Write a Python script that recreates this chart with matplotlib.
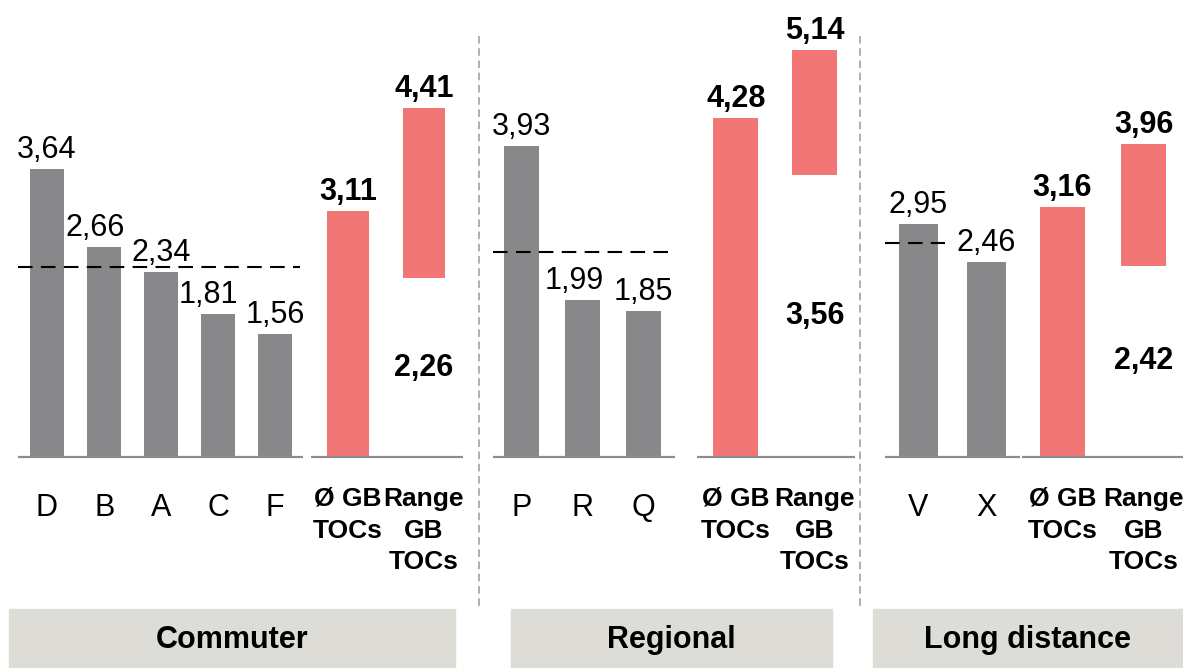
import matplotlib.pyplot as plt
from matplotlib.patches import Rectangle

plt.rcParams['font.family'] = ['Liberation Sans', 'DejaVu Sans']

# data
commuter_names = ["D", "B", "A", "C", "F"]
commuter_vals = [3.64, 2.66, 2.34, 1.81, 1.56]
commuter_mean = 2.40
commuter_gb_avg = 3.11
commuter_gb_range = [2.26, 4.41]

regional_names = ["P", "R", "Q"]
regional_vals = [3.93, 1.99, 1.85]
regional_mean = 2.59
regional_gb_avg = 4.28
regional_gb_range = [3.56, 5.14]

long_names = ["V", "X"]
long_vals = [2.95, 2.46]
long_mean = 2.70
long_gb_avg = 3.16
long_gb_range = [2.42, 3.96]

segment_labels = ["Commuter", "Regional", "Long distance"]
avg_label = "Ø GB\nTOCs"
range_label = "Range\nGB\nTOCs"

GREY = "#88888a"
RED = "#f27676"
BOX = "#dedcd7"

# layout (pixel-like x positions)
W, H = 1183, 668
base_px = 457
ppu = 79.1  # pixels per unit


def py(p):
    return (base_px - p) / ppu


def fmt(v):
    return f"{v:.2f}".replace(".", ",")


panels = [
    dict(names=commuter_names, vals=commuter_vals, mean=commuter_mean,
         avg=commuter_gb_avg, rng=commuter_gb_range,
         xs=[47, 104.5, 161.5, 218.5, 275], bw=34, lab_dx=[0, -9, 0, -10, 0],
         xa=348, xr=424, rw=42, axes=[(18, 303), (311, 463)], dash=(18, 300),
         box=(9, 455)),
    dict(names=regional_names, vals=regional_vals, mean=regional_mean,
         avg=regional_gb_avg, rng=regional_gb_range,
         xs=[521.5, 583, 643.5], bw=35, lab_dx=[0, -9, 0],
         xa=736, xr=815, rw=45, axes=[(493, 675), (697, 855)], dash=(493, 675),
         box=(511, 832)),
    dict(names=long_names, vals=long_vals, mean=long_mean,
         avg=long_gb_avg, rng=long_gb_range,
         xs=[918.5, 986.5], bw=39, lab_dx=[0, 0],
         xa=1062.5, xr=1144, rw=45, axes=[(885, 1020), (1022, 1183)], dash=(885, 945),
         box=(873, 1183)),
]

fig = plt.figure(figsize=(W / 100, H / 100), dpi=100)
ax = fig.add_axes([0, 0, 1, 1])
ax.set_xlim(0, W)
ax.set_ylim(py(H), py(0))
ax.axis("off")

lab_off = 11 / ppu

for p, seg in zip(panels, segment_labels):
    ax.bar(p["xs"], p["vals"], width=p["bw"], color=GREY, zorder=2)
    for x, v, dx, n in zip(p["xs"], p["vals"], p["lab_dx"], p["names"]):
        ax.text(x + dx, v + lab_off, fmt(v), ha="center", va="baseline",
                fontsize=22, zorder=4)
        ax.text(x, py(508), n, ha="center", va="center", fontsize=22)

    # GB average bar
    ax.bar(p["xa"], p["avg"], width=p["rw"], color=RED, zorder=2)
    ax.text(p["xa"], p["avg"] + lab_off, fmt(p["avg"]), ha="center", va="baseline",
            fontsize=22, fontweight="bold")
    # GB range bar
    lo, hi = p["rng"]
    ax.bar(p["xr"], hi - lo, bottom=lo, width=p["rw"], color=RED, zorder=2)
    ax.text(p["xr"], hi + lab_off, fmt(hi), ha="center", va="baseline",
            fontsize=22, fontweight="bold")
    ax.text(p["xr"], lo / 2, fmt(lo), ha="center", va="center",
            fontsize=22, fontweight="bold")

    ax.text(p["xa"], py(487), avg_label, ha="center", va="top", fontsize=19,
            fontweight="bold", linespacing=1.4)
    ax.text(p["xr"], py(487), range_label, ha="center", va="top", fontsize=19,
            fontweight="bold", linespacing=1.4)

    # baselines
    for x0, x1 in p["axes"]:
        ax.plot([x0, x1], [0, 0], color="#8c8c8c", lw=1.6, zorder=3,
                solid_capstyle="butt")
    # mean line
    ax.plot(list(p["dash"]), [p["mean"], p["mean"]], color="black", lw=1.5,
            linestyle=(0, (7, 4)), zorder=5)

    # segment box
    b0, b1 = p["box"]
    ax.add_patch(Rectangle((b0, py(H)), b1 - b0, py(609) - py(H), color=BOX,
                           clip_on=False, zorder=1))
    ax.text((b0 + b1) / 2, py(640), seg, ha="center", va="center", fontsize=22,
            fontweight="bold")

for xs in (479, 860):
    ax.plot([xs, xs], [py(36), py(609)], color="#9a9a9a", lw=1.1,
            linestyle=(0, (5, 3)), zorder=1)

fig.savefig("out.png", dpi=100)
